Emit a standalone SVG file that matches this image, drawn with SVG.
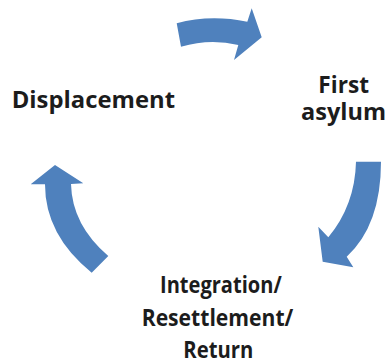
<svg xmlns="http://www.w3.org/2000/svg" width="386" height="360" viewBox="0 0 386 360">
  <style>
    .arrow { fill: #4f81bd; stroke: none; }
    .label { font-family: "Open Sans", "Noto Sans", "Liberation Sans", sans-serif; font-weight: bold; font-size: 22.5px; fill: #1c1c1c; }
  </style>
  <rect width="386" height="360" fill="#ffffff"/>

  <!-- curved block arrows forming the cycle -->
  <g id="connectors">
    <path class="arrow" d="M176.7,23.3 Q210,14 247.3,21.7 L251.7,8.3 L261.7,37.3 L234,60 L238.3,45 Q210,38 181,46.7 Z"/>
    <path class="arrow" d="M356,161.7 L381,161.7 Q381,225 346.7,256.7 L353.3,267.3 L322.7,261.7 L318.3,226.7 L328.3,237.3 Q355,205 356,161.7 Z"/>
    <path class="arrow" d="M55,165 L83.3,183.3 L71,184 Q72,225 108.3,256 L91.7,272.7 Q45,235 45,184.3 L30.7,184.3 Z"/>
  </g>

  <g id="displacement">
    <text class="label" x="11.7" y="108.3" textLength="163.3" lengthAdjust="spacingAndGlyphs">Displacement</text>
  </g>

  <g id="first-asylum">
    <text class="label" x="318.3" y="92.7" textLength="50.7" lengthAdjust="spacingAndGlyphs">First</text>
    <text class="label" x="301" y="120" textLength="85" lengthAdjust="spacingAndGlyphs">asylum</text>
  </g>

  <g id="integration">
    <text class="label" x="160" y="293.3" textLength="121.7" lengthAdjust="spacingAndGlyphs">Integration/</text>
    <text class="label" x="141.7" y="326" textLength="151.6" lengthAdjust="spacingAndGlyphs">Resettlement/</text>
    <text class="label" x="183.3" y="358" textLength="70" lengthAdjust="spacingAndGlyphs">Return</text>
  </g>
</svg>
